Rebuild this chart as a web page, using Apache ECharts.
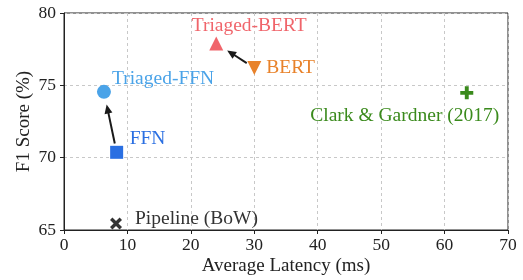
<!DOCTYPE html>
<html><head><meta charset="utf-8">
<script src="https://cdn.jsdelivr.net/npm/echarts@6/dist/echarts.min.js"></script>
<style>html,body{margin:0;padding:0;background:#fff}#c{width:523px;height:280px}</style>
</head><body><div id="c"></div>
<script>
// ---- data ----
const names = ['Triaged-FFN', 'FFN', 'Pipeline (BoW)', 'Triaged-BERT', 'BERT', 'Clark & Gardner (2017)'];
const latency = [6.3, 8.3, 8.2, 24.0, 30.0, 63.5];
const f1 = [74.55, 70.37, 65.45, 77.9, 76.2, 74.48];
const arrowPairs = [['FFN', 'Triaged-FFN'], ['BERT', 'Triaged-BERT']];
const xTicks = [0, 10, 20, 30, 40, 50, 60, 70];
const yTicks = [65, 70, 75, 80];

// ---- styles ----
const FONT = 'Liberation Serif';
const XPATH = 'path://M-1,-0.6 L-0.6,-1 L0,-0.4 L0.6,-1 L1,-0.6 L0.4,0 L1,0.6 L0.6,1 L0,0.4 L-0.6,1 L-1,0.6 L-0.4,0 Z';
const PPATH = 'path://M-0.3,-1 L0.3,-1 L0.3,-0.3 L1,-0.3 L1,0.3 L0.3,0.3 L0.3,1 L-0.3,1 L-0.3,0.3 L-1,0.3 L-1,-0.3 L-0.3,-0.3 Z';
const style = {
  'Triaged-FFN': {color: '#4aa3e8', symbol: 'circle', size: 14, align: 'left', off: [8, -13]},
  'FFN': {color: '#2a6fe2', symbol: 'rect', size: 13, align: 'left', off: [13, -13]},
  'Pipeline (BoW)': {color: '#333333', symbol: XPATH, size: 12, align: 'left', off: [19, -5]},
  'Triaged-BERT': {color: '#f0656b', symbol: 'triangle', size: 14, align: 'center', off: [33, -18]},
  'BERT': {color: '#e8822a', symbol: 'path://M-1,-1 L1,-1 L0,1 Z', size: 14, align: 'left', off: [12, 0]},
  'Clark & Gardner (2017)': {color: '#3a8a1c', symbol: PPATH, size: 13, align: 'center', off: [-62, 23]}
};

const idx = n => names.indexOf(n);
const scatterSeries = names.map((n, i) => {
  const s = style[n];
  return {
    type: 'scatter',
    name: n,
    symbol: s.symbol,
    symbolSize: s.size,
    itemStyle: {color: s.color, opacity: 1},
    data: [[latency[i], f1[i]]],
    label: {
      show: true,
      formatter: n,
      position: 'inside',
      align: s.align,
      verticalAlign: 'middle',
      offset: s.off,
      color: s.color,
      fontFamily: FONT,
      fontSize: 19.5
    },
    z: 3
  };
});

const arrowData = arrowPairs.map(([a, b]) => [latency[idx(a)], f1[idx(a)], latency[idx(b)], f1[idx(b)]]);

const arrowSeries = {
  type: 'custom',
  data: arrowData,
  encode: {x: [0, 2], y: [1, 3]},
  z: 4,
  renderItem: function (params, api) {
    const p1 = api.coord([api.value(0), api.value(1)]);
    const p2 = api.coord([api.value(2), api.value(3)]);
    const dx = p2[0] - p1[0], dy = p2[1] - p1[1];
    const L = Math.sqrt(dx * dx + dy * dy);
    const ux = dx / L, uy = dy / L;
    const shrinkA = 9, shrinkB = 13, head = 9, hw = 4;
    const s = [p1[0] + ux * shrinkA, p1[1] + uy * shrinkA];
    const t = [p2[0] - ux * shrinkB, p2[1] - uy * shrinkB];
    const b = [t[0] - ux * head, t[1] - uy * head];
    const nx = -uy, ny = ux;
    return {
      type: 'group',
      children: [
        {type: 'line', shape: {x1: s[0], y1: s[1], x2: b[0] + ux * 1, y2: b[1] + uy * 1},
         style: {stroke: '#1a1a1a', lineWidth: 2}},
        {type: 'polygon', shape: {points: [t, [b[0] + nx * hw, b[1] + ny * hw], [b[0] - nx * hw, b[1] - ny * hw]]},
         style: {fill: '#1a1a1a'}}
      ]
    };
  }
};

const chart = echarts.init(document.getElementById('c'), null, {renderer: 'canvas'});
chart.setOption({
  animation: false,
  backgroundColor: '#fff',
  grid: {left: 64, right: 15, top: 13, bottom: 50, containLabel: false, outerBoundsMode: 'none',
         show: true, borderColor: '#222', borderWidth: 1, backgroundColor: 'transparent'},
  xAxis: {
    type: 'value', min: xTicks[0], max: xTicks[xTicks.length - 1], interval: xTicks[1] - xTicks[0],
    name: 'Average Latency (ms)', nameLocation: 'middle', nameGap: 27, nameMoveOverlap: false,
    nameTextStyle: {fontFamily: FONT, fontSize: 19, color: '#222'},
    axisLine: {show: true, lineStyle: {color: '#222', width: 1}},
    axisTick: {show: true, length: 4, inside: false, lineStyle: {color: '#222'}},
    axisLabel: {fontFamily: FONT, fontSize: 17.5, color: '#222', margin: 6},
    splitLine: {show: true, lineStyle: {color: '#c8c8c8', type: [3, 3], width: 1}}
  },
  yAxis: {
    type: 'value', min: yTicks[0], max: yTicks[yTicks.length - 1], interval: yTicks[1] - yTicks[0],
    name: 'F1 Score (%)', nameLocation: 'middle', nameGap: 30, nameRotate: 90, nameMoveOverlap: false,
    nameTextStyle: {fontFamily: FONT, fontSize: 19, color: '#222', verticalAlign: 'bottom', align: 'center'},
    axisLine: {show: true, lineStyle: {color: '#222', width: 1}},
    axisTick: {show: true, length: 4, inside: false, lineStyle: {color: '#222'}},
    axisLabel: {fontFamily: FONT, fontSize: 17.5, color: '#222', margin: 8},
    splitLine: {show: true, lineStyle: {color: '#c8c8c8', type: [3, 3], width: 1}}
  },
  series: scatterSeries.concat([arrowSeries])
});
</script>
</body></html>
